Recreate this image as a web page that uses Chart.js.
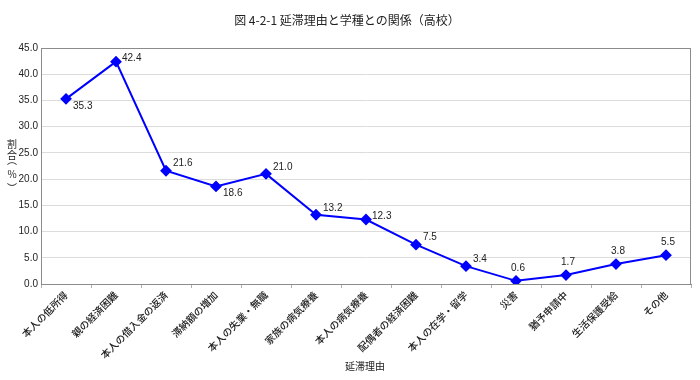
<!DOCTYPE html>
<html><head><meta charset="utf-8">
<script src="https://cdn.jsdelivr.net/npm/chart.js@4/dist/chart.umd.min.js"></script>
<style>html,body{margin:0;padding:0;background:#fff}#wrap{width:700px;height:380px}</style>
</head><body><div id="wrap"><canvas id="c" width="700" height="380"></canvas></div>
<script>
const categories = ["本人の低所得","親の経済困難","本人の借入金の返済","滞納額の増加","本人の失業・無職","家族の病気療養","本人の病気療養","配偶者の経済困難","本人の在学・留学","災害","猶予申請中","生活保護受給","その他"];
const values = [35.3,42.4,21.6,18.6,21.0,13.2,12.3,7.5,3.4,0.6,1.7,3.8,5.5];
const yTicks = [0,5,10,15,20,25,30,35,40,45];
const titleText = "図 4-2-1 延滞理由と学種との関係（高校）";
const xTitle = "延滞理由";
const yTitleChars = ["割","合","︵","%","︶"];
// label placement per point: 'br' below-right, 'r' right, 'ar' above-right, 'a' above
const labelPos = ["br","r","ar","br","ar","ar","r","ar","ar","a","a","a","a"];
const FONT = "'Noto Sans CJK JP', 'Noto Sans', sans-serif";
const NUMFONT = "'Liberation Sans', Arial, sans-serif";

const deco = {
  id: 'deco',
  afterDraw(chart) {
    const ctx = chart.ctx, a = chart.chartArea;
    ctx.save();
    ctx.setTransform(1,0,0,1,0,0);
    ctx.strokeStyle = '#8c8c8c'; ctx.lineWidth = 1;
    ctx.strokeRect(Math.round(a.left)+0.5, Math.round(a.top)+0.5, Math.round(a.right-a.left)-1, Math.round(a.bottom-a.top));
    ctx.fillStyle = '#222';
    ctx.font = "12px " + FONT;
    ctx.textAlign = 'center'; ctx.textBaseline = 'middle';
    ctx.fillText(titleText, 347, 20);
    ctx.font = "10px " + FONT;
    ctx.fillText(xTitle, 365, 366);
    const ys = [144, 155, 160, 174, 188];
    yTitleChars.forEach((ch, i) => { ctx.fillText(ch, 12, ys[i]); });
    // data labels
    const meta = chart.getDatasetMeta(0);
    ctx.font = "10px " + NUMFONT; ctx.fillStyle = '#222';
    meta.data.forEach((p, i) => {
      const t = values[i].toFixed(1);
      let x = p.x, yy = p.y;
      const pos = labelPos[i];
      ctx.textAlign = 'left';
      if (pos === 'br') { x += 7; yy += 7; }
      else if (pos === 'r') { x += 6; yy -= 3; }
      else if (pos === 'ar') { x += 7; yy -= 7; }
      else { ctx.textAlign = 'center'; x += 2; yy -= 13; }
      ctx.fillText(t, x, yy);
    });
    ctx.restore();
  }
};

new Chart(document.getElementById('c'), {
  type: 'line',
  data: { labels: categories, datasets: [{
    data: values, borderColor: '#0000ff', backgroundColor: '#0000ff', borderWidth: 2,
    pointStyle: 'rectRot', pointRadius: 4.5, pointHoverRadius: 4.5, tension: 0, fill: false
  }]},
  options: {
    responsive: false, animation: false, devicePixelRatio: 1,
    layout: { padding: { top: 48, right: 9, left: 0, bottom: 0 } },
    plugins: { legend: { display: false }, title: { display: false }, tooltip: { enabled: false } },
    scales: {
      x: {
        offset: true,
        grid: { display: true, drawOnChartArea: false, drawTicks: true, tickLength: 4, color: '#b0b0b0', offset: true },
        border: { color: '#8c8c8c' },
        ticks: { maxRotation: 45, minRotation: 45, autoSkip: false, color: '#222', font: { size: 10, family: FONT, weight: '500' }, padding: 1 },
        afterFit(s) { s.height = 96; }
      },
      y: {
        min: 0, max: 45,
        afterBuildTicks(s) { s.ticks = yTicks.map(v => ({ value: v })); },
        grid: { color: '#dcdcdc', drawTicks: false },
        border: { color: '#8c8c8c' },
        ticks: { color: '#222', font: { size: 10, family: NUMFONT }, padding: 3, callback: v => Number(v).toFixed(1) },
        afterFit(s) { s.width = 41; }
      }
    }
  },
  plugins: [deco]
});
</script></body></html>
